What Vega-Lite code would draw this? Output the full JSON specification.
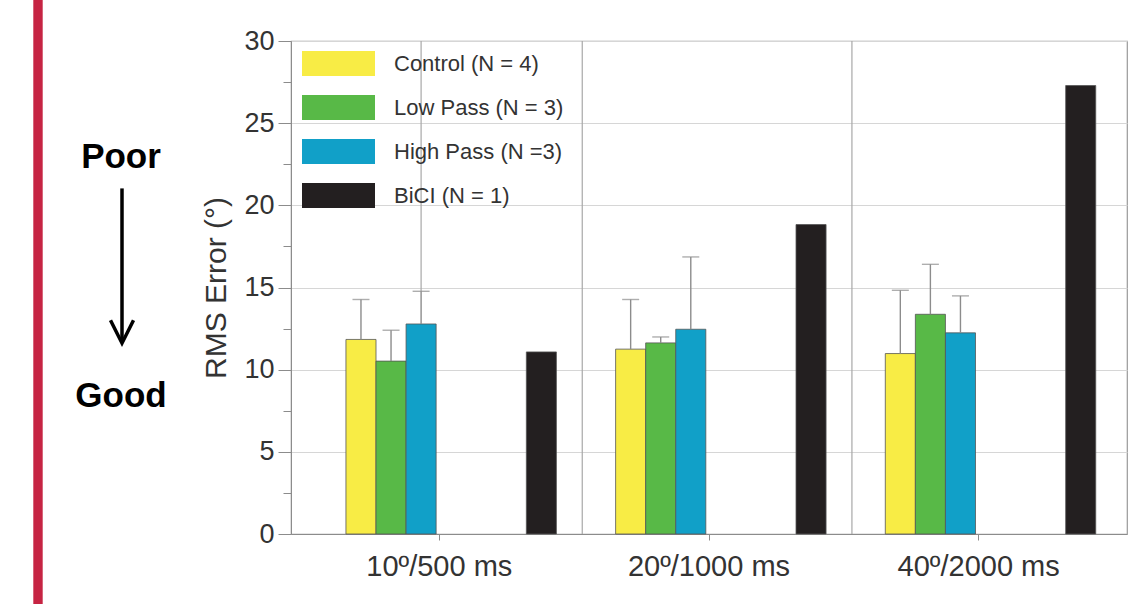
{
  "$schema": "https://vega.github.io/schema/vega-lite/v6.json",
  "width": 836,
  "height": 493,
  "autosize": {"type": "none"},
  "padding": {"left": 291, "top": 41, "right": 4, "bottom": 70},
  "background": "white",
  "config": {
    "font": "Liberation Sans",
    "view": {"stroke": "#9a9a9a", "strokeWidth": 1.2}
  },
  "datasets": {
    "bars": [
      {"cond": "10º/500 ms", "grp": "Control (N = 4)", "rms": 11.84, "hi": 14.27},
      {"cond": "10º/500 ms", "grp": "Low Pass (N = 3)", "rms": 10.52, "hi": 12.40},
      {"cond": "10º/500 ms", "grp": "High Pass (N =3)", "rms": 12.78, "hi": 14.77},
      {"cond": "10º/500 ms", "grp": "BiCI (N = 1)", "rms": 11.08, "hi": null},
      {"cond": "20º/1000 ms", "grp": "Control (N = 4)", "rms": 11.25, "hi": 14.27},
      {"cond": "20º/1000 ms", "grp": "Low Pass (N = 3)", "rms": 11.63, "hi": 11.99},
      {"cond": "20º/1000 ms", "grp": "High Pass (N =3)", "rms": 12.46, "hi": 16.86},
      {"cond": "20º/1000 ms", "grp": "BiCI (N = 1)", "rms": 18.83, "hi": null},
      {"cond": "40º/2000 ms", "grp": "Control (N = 4)", "rms": 10.98, "hi": 14.83},
      {"cond": "40º/2000 ms", "grp": "Low Pass (N = 3)", "rms": 13.37, "hi": 16.41},
      {"cond": "40º/2000 ms", "grp": "High Pass (N =3)", "rms": 12.24, "hi": 14.49},
      {"cond": "40º/2000 ms", "grp": "BiCI (N = 1)", "rms": 27.29, "hi": null}
    ],
    "separators": [{"cond": "20º/1000 ms"}, {"cond": "40º/2000 ms"}],
    "stray": [{"cond": "10º/500 ms", "grp": "High Pass (N =3)", "rms": 14.77, "hi": 30}],
    "notes": [{"label": "Poor", "rms": 22.95}, {"label": "Good", "rms": 8.4}]
  },
  "layer": [
    {
      "layer": [
        {
          "data": {"name": "separators"},
          "mark": {"type": "rule", "color": "#a8a8a8", "strokeWidth": 1.2},
          "encoding": {
            "x": {"field": "cond", "type": "nominal", "bandPosition": 0.03,
                  "scale": {"domain": ["10º/500 ms", "20º/1000 ms", "40º/2000 ms"], "paddingInner": 0, "paddingOuter": 0.05}}
          }
        },
        {
          "data": {"name": "stray"},
          "mark": {"type": "rule", "color": "#a8a8a8", "strokeWidth": 1.2},
          "encoding": {
            "x": {"field": "cond", "type": "nominal"},
            "xOffset": {"field": "grp", "type": "nominal"},
            "y": {"field": "rms", "type": "quantitative", "scale": {"domain": [0, 30]}},
            "y2": {"field": "hi"}
          }
        },
        {
          "data": {"name": "bars"},
          "mark": {"type": "bar", "stroke": "#555555", "strokeWidth": 0.8},
          "encoding": {
            "x": {
              "field": "cond", "type": "nominal",
              "scale": {"domain": ["10º/500 ms", "20º/1000 ms", "40º/2000 ms"], "paddingInner": 0, "paddingOuter": 0.05},
              "axis": {
                "title": null, "labelAngle": 0, "labelAlign": "center", "labelBaseline": "top",
                "labelFontSize": 29, "labelColor": "#333333",
                "tickSize": 6, "labelPadding": 12, "domainColor": "#8c8c8c", "tickColor": "#8c8c8c",
                "grid": false, "labelLimit": 400
              }
            },
            "xOffset": {
              "field": "grp", "type": "nominal",
              "scale": {
                "domain": ["Control (N = 4)", "Low Pass (N = 3)", "High Pass (N =3)", "gap1", "gap2", "gap3", "BiCI (N = 1)"],
                "paddingInner": 0, "paddingOuter": 0.985, "align": 0.7
              }
            },
            "y": {
              "field": "rms", "type": "quantitative",
              "scale": {"domain": [0, 30], "nice": false},
              "axis": {
                "title": "RMS Error (°)",
                "values": [0, 2.5, 5, 7.5, 10, 12.5, 15, 17.5, 20, 22.5, 25, 27.5, 30],
                "labelExpr": "datum.value % 5 === 0 ? datum.label : ''",
                "tickSize": {"condition": {"test": "datum.value % 5 === 0", "value": 13}, "value": 8},
                "gridOpacity": {"condition": {"test": "datum.value % 5 === 0", "value": 1}, "value": 0},
                "gridColor": "#d6d6d6", "gridWidth": 1.2,
                "labelFontSize": 27, "labelColor": "#333333", "labelPadding": 4,
                "titleFontSize": 30, "titleColor": "#333333", "titleFontWeight": "normal", "titlePadding": 12,
                "domainColor": "#8c8c8c", "tickColor": "#8c8c8c"
              }
            },
            "color": {
              "field": "grp", "type": "nominal",
              "scale": {
                "domain": ["Control (N = 4)", "Low Pass (N = 3)", "High Pass (N =3)", "BiCI (N = 1)"],
                "range": ["#F8EC45", "#58B947", "#11A0C8", "#231F20"]
              },
              "legend": {
                "title": null, "orient": "none", "legendX": 35, "legendY": 10,
                "symbolType": "M-2.92,-1H2.92V1H-2.92Z", "symbolSize": 625,
                "symbolStrokeWidth": 0, "symbolOpacity": 1,
                "labelFontSize": 22, "labelColor": "#333333", "labelOffset": 43, "labelLimit": 400,
                "labelBaseline": "middle",
                "rowPadding": 19, "padding": 0
              }
            }
          }
        },
        {
          "data": {"name": "bars"},
          "transform": [{"filter": "isValid(datum.hi)"}],
          "mark": {"type": "rule", "color": "#8c8c8c", "strokeWidth": 1.4},
          "encoding": {
            "x": {"field": "cond", "type": "nominal"},
            "xOffset": {"field": "grp", "type": "nominal"},
            "y": {"field": "rms", "type": "quantitative", "scale": {"domain": [0, 30]}},
            "y2": {"field": "hi"}
          }
        },
        {
          "data": {"name": "bars"},
          "transform": [{"filter": "isValid(datum.hi)"}],
          "mark": {"type": "tick", "color": "#8c8c8c", "thickness": 1.4, "size": 17},
          "encoding": {
            "x": {"field": "cond", "type": "nominal"},
            "xOffset": {"field": "grp", "type": "nominal"},
            "y": {"field": "hi", "type": "quantitative", "scale": {"domain": [0, 30]}}
          }
        }
      ]
    },
    {
      "layer": [
        {
          "data": {"values": [{}]},
          "mark": {"type": "rule", "color": "#C62443", "strokeWidth": 9.4},
          "encoding": {
            "x": {"datum": -253, "type": "quantitative", "scale": {"domain": [0, 836], "nice": false, "zero": false}, "axis": null},
            "y": {"datum": -4.6, "type": "quantitative", "scale": {"domain": [0, 30]}},
            "y2": {"datum": 32.7}
          }
        },
        {
          "data": {"name": "notes"},
          "mark": {"type": "text", "fontSize": 35, "fontWeight": "bold", "color": "#000000", "align": "center", "baseline": "middle"},
          "encoding": {
            "x": {"datum": -170, "type": "quantitative"},
            "y": {"field": "rms", "type": "quantitative", "scale": {"domain": [0, 30]}},
            "text": {"field": "label"}
          }
        },
        {
          "data": {"values": [{}]},
          "mark": {"type": "rule", "color": "#000000", "strokeWidth": 3.5},
          "encoding": {
            "x": {"datum": -169, "type": "quantitative"},
            "y": {"datum": 21.03, "type": "quantitative", "scale": {"domain": [0, 30]}},
            "y2": {"datum": 11.75}
          }
        },
        {
          "data": {"values": [{}]},
          "mark": {"type": "point", "shape": "M-1,-2L0,0L1,-2", "size": 529, "filled": false, "color": "#000000", "strokeWidth": 3.5, "opacity": 1},
          "encoding": {
            "x": {"datum": -169, "type": "quantitative"},
            "y": {"datum": 11.61, "type": "quantitative", "scale": {"domain": [0, 30]}}
          }
        }
      ]
    }
  ],
  "resolve": {"scale": {"x": "independent"}}
}
